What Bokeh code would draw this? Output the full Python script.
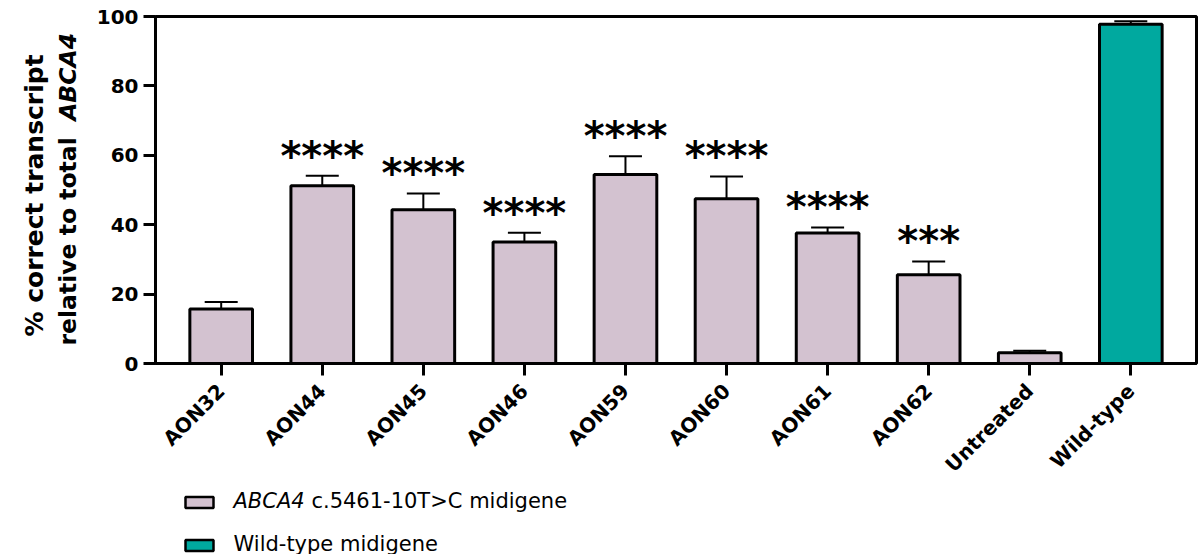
import math
from bokeh.plotting import figure
from bokeh.layouts import row, column
from bokeh.models import ColumnDataSource, Range1d, FixedTicker, Whisker, TeeHead
from bokeh.embed import file_html
from bokeh.resources import INLINE
from bokeh.core.properties import value

# ---------------- data ----------------
categories = ["AON32", "AON44", "AON45", "AON46", "AON59", "AON60",
              "AON61", "AON62", "Untreated", "Wild-type"]
means = [15.7, 51.2, 44.3, 35.0, 54.5, 47.5, 37.6, 25.6, 3.1, 97.8]
errors = [2.0, 2.9, 4.7, 2.7, 5.2, 6.4, 1.6, 3.8, 0.6, 0.8]
significance = ["", "****", "****", "****", "****", "****", "****", "***", "", ""]
groups = ["mut"] * 9 + ["wt"]
y_ticks = [0, 20, 40, 60, 80, 100]
legend_gene = "ABCA4"
legend_labels = ["c.5461-10T>C midigene", "Wild-type midigene"]
ytitle_line1 = "% correct transcript"
ytitle_line2 = "relative to total"

MUT_COLOR = "#D3C2D0"
WT_COLOR = "#00A99F"
FONT = "DejaVu Sans"

# ---------------- layout constants (page px) ----------------
PAGE_W, PAGE_H = 1202, 554
TW = 90                      # title strip width
MH = 489                     # main row height
LH = PAGE_H - MH             # legend strip height
FL, FT, FW, FH = 155, 16, 1041, 347   # frame in page px
XS, XE = -0.65, 9.65


def blank_fig(w, h, top=0, bottom=0):
    f = figure(width=w, height=h, x_range=Range1d(0, w),
               y_range=Range1d(0, h - top - bottom),
               x_axis_location=None, y_axis_location=None,
               min_border=0, min_border_top=top, min_border_bottom=bottom,
               output_backend="svg", toolbar_location=None)
    f.outline_line_color = None
    f.grid.visible = False
    f.background_fill_color = "white"
    f.border_fill_color = "white"
    return f


# ---------------- main chart ----------------
p = figure(width=PAGE_W - TW, height=MH,
           min_border_left=FL - TW, min_border_top=FT,
           min_border_right=PAGE_W - TW - (FL - TW) - FW,
           min_border_bottom=MH - FT - FH,
           x_range=Range1d(XS, XE), y_range=Range1d(0, 100),
           output_backend="svg", toolbar_location=None)
p.background_fill_color = "white"
p.border_fill_color = "white"
p.outline_line_color = "black"
p.outline_line_width = 3
p.xgrid.visible = False
p.ygrid.visible = False

xs = list(range(len(categories)))
uppers = [m + e for m, e in zip(means, errors)]

for g, col in (("mut", MUT_COLOR), ("wt", WT_COLOR)):
    idx = [i for i, gg in enumerate(groups) if gg == g]
    src = ColumnDataSource(dict(x=[xs[i] for i in idx], top=[means[i] for i in idx],
                                upper=[uppers[i] for i in idx]))
    p.add_layout(Whisker(source=src, base="x", lower="top", upper="upper",
                         dimension="height", line_color="black", line_width=2,
                         upper_head=TeeHead(size=33, line_color="black", line_width=2),
                         lower_head=None, level="underlay"))
    p.vbar(x="x", top="top", bottom=0, width=0.62, source=src,
           fill_color=col, line_color="black", line_width=3)

sig_idx = [i for i, s in enumerate(significance) if s]
star_src = ColumnDataSource(dict(x=[xs[i] for i in sig_idx],
                                 y=[uppers[i] for i in sig_idx],
                                 t=[significance[i] for i in sig_idx]))
p.text(x="x", y="y", text="t", source=star_src, text_align="center",
       text_baseline="alphabetic", y_offset=-20,
       text_font=value(FONT), text_font_style="bold",
       text_font_size="40px", text_color="black")

for ax in (p.xaxis[0], p.yaxis[0]):
    ax.axis_line_width = 3
    ax.axis_line_color = "black"
    ax.major_tick_line_width = 3
    ax.major_tick_line_color = "black"
    ax.major_tick_out = 12
    ax.major_tick_in = 0
    ax.minor_tick_out = 0
    ax.minor_tick_in = 0
    ax.major_label_text_font = FONT
    ax.major_label_text_font_style = "bold"
    ax.major_label_text_font_size = "20px"
    ax.major_label_text_color = "black"

p.yaxis.ticker = FixedTicker(ticks=y_ticks)
p.yaxis.major_label_standoff = 5
p.xaxis.ticker = FixedTicker(ticks=xs)
p.xaxis.major_label_overrides = {i: c for i, c in enumerate(categories)}
p.xaxis.major_label_orientation = math.pi / 4
p.xaxis.major_label_standoff = 12

# ---------------- y-axis title strip (frame aligned with the chart frame) ----------------
t = blank_fig(TW, MH, top=FT, bottom=MH - FT - FH)
TS1, TS2 = 25, 23.5
def ty(page_y):
    return FT + FH - page_y
t.text(x=[34], y=[ty(195)], text=[ytitle_line1], angle=math.pi / 2,
       text_align="center", text_baseline="middle", text_font=value(FONT),
       text_font_style="bold", text_font_size=f"{TS1}px", text_color="black")
t.text(x=[67], y=[ty(345)], text=[ytitle_line2], angle=math.pi / 2,
       text_align="left", text_baseline="middle", text_font=value(FONT),
       text_font_style="bold", text_font_size=f"{TS2}px", text_color="black")
t.text(x=[67], y=[ty(345 - 9.56 * TS2)], text=[legend_gene], angle=math.pi / 2,
       text_align="left", text_baseline="middle", text_font=value(FONT),
       text_font_style="bold italic", text_font_size=f"{TS2}px", text_color="black")

# ---------------- legend strip ----------------
lg = blank_fig(PAGE_W, LH)
def ly(page_y):
    return PAGE_H - page_y
lg.rect(x=[199, 199], y=[ly(502), ly(545)], width=28, height=11,
        fill_color=[MUT_COLOR, WT_COLOR], line_color="black", line_width=2.5)
LS = 21
lg.text(x=[233], y=[ly(500)], text=[legend_gene], text_align="left",
        text_baseline="middle", text_font=value(FONT), text_font_style="italic",
        text_font_size=f"{LS}px", text_color="black")
lg.text(x=[233 + 3.71 * LS], y=[ly(500)], text=[legend_labels[0]], text_align="left",
        text_baseline="middle", text_font=value(FONT),
        text_font_size=f"{LS}px", text_color="black")
lg.text(x=[233], y=[ly(543)], text=[legend_labels[1]], text_align="left",
        text_baseline="middle", text_font=value(FONT),
        text_font_size=f"{LS}px", text_color="black")

layout = column(row(t, p, spacing=0), lg, spacing=0)
open("out.html", "w").write(file_html(layout, INLINE))
